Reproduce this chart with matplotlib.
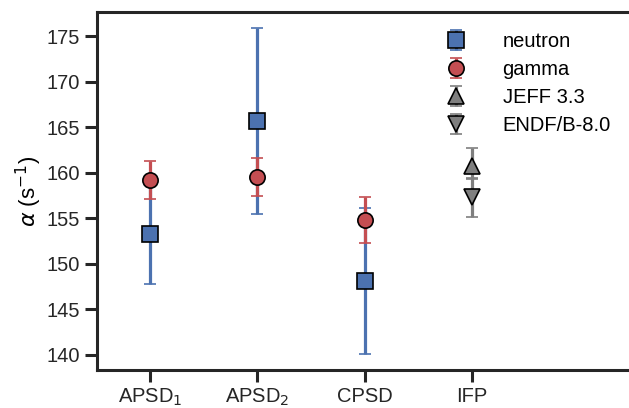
import matplotlib
matplotlib.use("Agg")
import matplotlib.pyplot as plt
import numpy as np

plt.rcParams['font.family'] = ['Liberation Sans', 'DejaVu Sans']
plt.rcParams['mathtext.fontset'] = 'dejavusans'

# methods on the x axis
methods = ["APSD$_1$", "APSD$_2$", "CPSD", "IFP"]

# measured alpha values (s^-1) and their uncertainties
neutron = [153.3, 165.7, 148.1]
neutron_err = [5.5, 10.2, 8.0]
gamma = [159.2, 159.5, 154.8]
gamma_err = [2.1, 2.1, 2.5]

# simulated IFP values
jeff = [160.7]
jeff_err_lo = [1.4]
jeff_err_hi = [2.0]
endf = [157.3]
endf_err = [2.15]

blue = "#4C72B0"
red = "#C44E52"
grey = "#7f7f7f"

fig = plt.figure(figsize=(6.29, 4.08), dpi=100)
ax = fig.add_axes([0.154, 0.093, 0.851, 0.878])

x = np.arange(len(methods))
common = dict(ls="none", capsize=4.5, elinewidth=2.3, capthick=1.5,
              markeredgecolor="black", markeredgewidth=1.2, markersize=11)

ax.errorbar(x[:3], neutron, yerr=neutron_err, marker="s", color=blue,
            label="neutron", **common)
ax.errorbar(x[:3], gamma, yerr=gamma_err, marker="o", color=red,
            label="gamma", **common)
ax.errorbar(x[3:], jeff, yerr=[jeff_err_lo, jeff_err_hi], marker="^",
            color=grey, label="JEFF 3.3", **common)
ax.errorbar(x[3:], endf, yerr=endf_err, marker="v", color=grey,
            label="ENDF/B-8.0", **common)

ax.set_xlim(-0.5, 4.5)
ax.set_xticks(x)
ax.set_xticklabels(methods)
ax.set_yticks(np.arange(140, 176, 5))
ax.set_ylabel(r"$\alpha$ (s$^{-1}$)", fontsize=16, labelpad=2)
ax.tick_params(labelsize=14.5, width=2.2, length=8.5, colors="#262626")
ax.tick_params(labelcolor="#262626")
for s in ax.spines.values():
    s.set_linewidth(2.2)
    s.set_color("#262626")

ax.legend(loc="upper left", bbox_to_anchor=(0.6, 0.995), frameon=False,
          fontsize=14.5, handletextpad=1.3, labelspacing=0.45)

fig.savefig("out.png", dpi=100)
